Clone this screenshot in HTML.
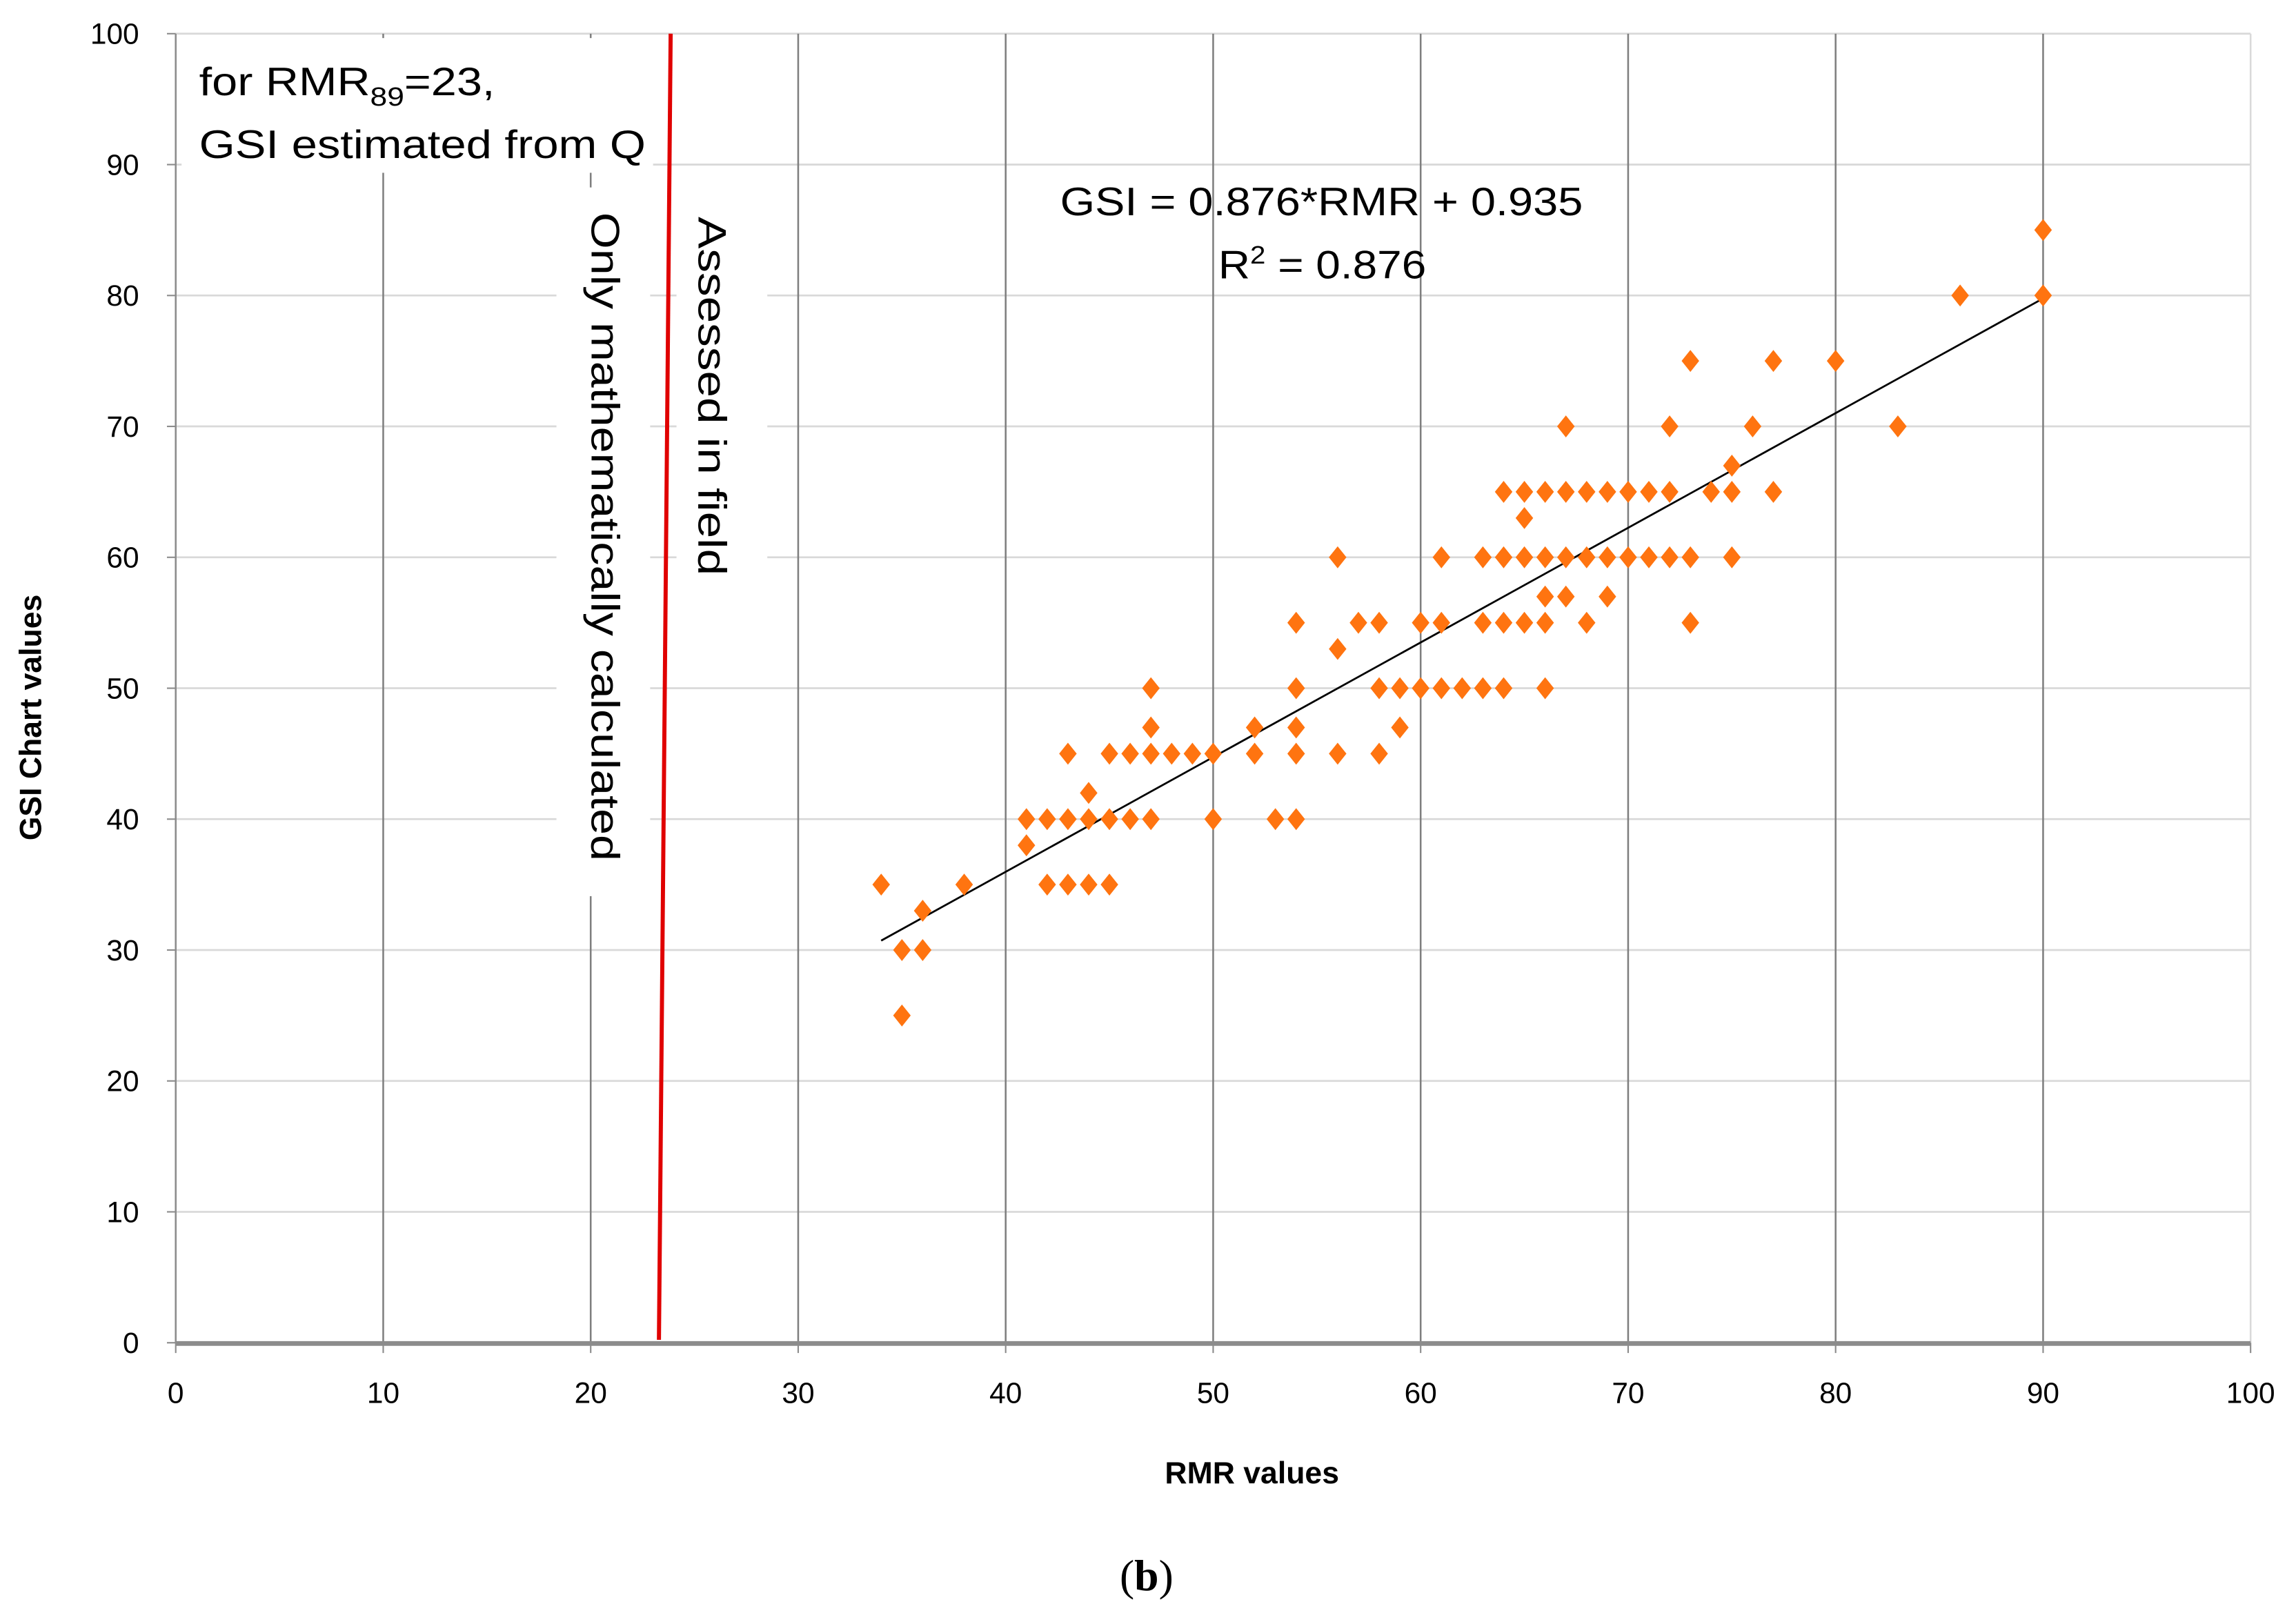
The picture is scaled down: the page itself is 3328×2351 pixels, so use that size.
<!DOCTYPE html>
<html><head><meta charset="utf-8"><style>
html,body{margin:0;padding:0;background:#fff;}
svg{display:block;font-family:"Liberation Sans",sans-serif;}
</style></head><body>
<svg id="chart" width="3328" height="2351" viewBox="0 0 1568 1107.7" xmlns="http://www.w3.org/2000/svg">
<g id="grid"></g>
<g id="masks">
<rect x="124" y="26" width="322" height="92" fill="#fff"/>
<rect x="380" y="128" width="64" height="484" fill="#fff"/>
<rect x="462" y="128" width="62" height="272" fill="#fff"/>
</g>
<line x1="120" y1="917.5" x2="1537" y2="917.5" stroke="#8c8c8c" stroke-width="3.2"/>
<line x1="120" y1="23" x2="120" y2="917" stroke="#8c8c8c" stroke-width="1.2"/>
<g id="ticks"></g>
<line x1="450" y1="915" x2="458" y2="23" stroke="#e00000" stroke-width="2.8"/>
<g id="trend"></g>
<g id="points"></g>
<text x="136" y="65" font-size="27" textLength="202" lengthAdjust="spacingAndGlyphs">for RMR<tspan font-size="18" dy="7">89</tspan><tspan dy="-7">=23,</tspan></text>
<text x="136" y="108" font-size="27" textLength="305" lengthAdjust="spacingAndGlyphs">GSI estimated from Q</text>
<text transform="translate(404,145) rotate(90)" font-size="27" textLength="443" lengthAdjust="spacingAndGlyphs">Only mathematically calculated</text>
<text transform="translate(477,148) rotate(90)" font-size="27" textLength="245" lengthAdjust="spacingAndGlyphs">Assessed in field</text>
<text x="724" y="147" font-size="27" textLength="357" lengthAdjust="spacingAndGlyphs">GSI = 0.876*RMR + 0.935</text>
<text x="832" y="190" font-size="27" textLength="142" lengthAdjust="spacingAndGlyphs">R<tspan font-size="17" dy="-10">2</tspan><tspan dy="10"> = 0.876</tspan></text>
<text transform="translate(28,490) rotate(-90)" font-size="21" font-weight="bold" text-anchor="middle">GSI Chart values</text>
<text x="855" y="1013" font-size="21" font-weight="bold" text-anchor="middle">RMR values</text>
<text x="783" y="1086" font-size="30" text-anchor="middle" font-family="Liberation Serif, serif">(<tspan font-weight="bold">b</tspan>)</text>
</svg>
<script>
const xTicks=[0,10,20,30,40,50,60,70,80,90,100];
const yTicks=[0,10,20,30,40,50,60,70,80,90,100];
const rmrValues=[34,35,35,36,36,38,41,41,42,42,43,43,43,44,44,44,45,45,45,46,46,47,47,47,47,48,49,50,50,52,52,53,54,54,54,54,54,56,56,56,57,58,58,58,59,59,60,60,61,61,61,62,63,63,63,64,64,64,64,65,65,65,65,66,66,66,66,66,67,67,67,67,68,68,68,69,69,69,70,70,71,71,72,72,72,73,73,73,74,75,75,75,76,77,77,80,83,86,90,90];
const gsiValues=[35,30,25,30,33,35,40,38,40,35,45,40,35,42,40,35,45,40,35,45,40,50,47,45,40,45,45,45,40,47,45,40,55,50,47,45,40,60,53,45,55,55,50,45,50,47,55,50,60,55,50,50,60,55,50,65,60,55,50,65,63,60,55,65,60,57,55,50,70,65,60,57,65,60,55,65,60,57,65,60,65,60,70,65,60,75,60,55,65,67,65,60,70,75,65,75,70,80,85,80];
const trendSlope=0.876, trendIntercept=0.935, trendX=[34,90];
const NS="http://www.w3.org/2000/svg";
const X0=120,X1=1537,Y0=917,Y1=23;
function sx(v){return X0+(v-0)/(100-0)*(X1-X0);}
function sy(v){return Y0-(v-0)/(100-0)*(Y0-Y1);}
function mk(tag,attrs,parent){const e=document.createElementNS(NS,tag);for(const k in attrs)e.setAttribute(k,attrs[k]);parent.appendChild(e);return e;}
const grid=document.getElementById('grid'),ticks=document.getElementById('ticks');
yTicks.forEach(t=>{
  if(t>0){const l=mk('line',{x1:X0,x2:X1,y1:sy(t),y2:sy(t),stroke:'#d9d9d9','stroke-width':1.3},grid);
  
  }
  const tk=mk('line',{x1:X0-6,x2:X0,y1:sy(t),y2:sy(t),stroke:'#8c8c8c','stroke-width':1},ticks);
  
  
  const tx=mk('text',{x:X0-25,y:sy(t)+7,'font-size':20,'text-anchor':'end'},ticks);
  tx.textContent=t;
  
  
});
xTicks.forEach(t=>{
  if(t>0){const l=mk('line',{x1:sx(t),x2:sx(t),y1:Y1,y2:Y0,stroke:t===100?'#d9d9d9':'#7f7f7f','stroke-width':1.2},grid);
  
  }
  const tk=mk('line',{x1:sx(t),x2:sx(t),y1:Y0,y2:Y0+7,stroke:'#8c8c8c','stroke-width':1},ticks);
  
  
  const tx=mk('text',{x:sx(t),y:958,'font-size':20,'text-anchor':'middle'},ticks);
  tx.textContent=t;
  
  
});
const tl=mk('line',{x1:sx(trendX[0]),y1:sy(trendSlope*trendX[0]+trendIntercept),x2:sx(trendX[1]),y2:sy(trendSlope*trendX[1]+trendIntercept),stroke:'#000','stroke-width':1.3},document.getElementById('trend'));


const pts=document.getElementById('points');
rmrValues.forEach((r,i)=>{
  const x=sx(r),y=sy(gsiValues[i]);
  const p=mk('polygon',{points:`${x},${y-7.5} ${x+6},${y} ${x},${y+7.5} ${x-6},${y}`,fill:'#ff7410'},pts);
  
  
});
</script>
</body></html>
